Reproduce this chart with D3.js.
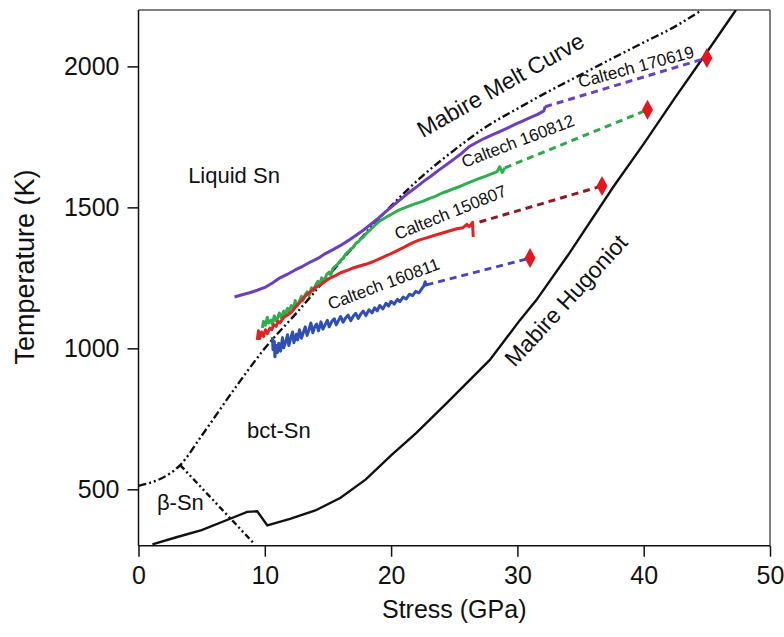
<!DOCTYPE html>
<html>
<head>
<meta charset="utf-8">
<script src="https://cdn.jsdelivr.net/npm/d3@7"></script>
<style>
  body { margin: 0; background: #fff; }
  svg { font-family: "Liberation Sans", Arial, sans-serif; }
</style>
</head>
<body>
<svg id="chart" width="784" height="637"></svg>
<script>
// Phase diagram data (stress GPa, temperature K)
const meltCurve = [[0,512],[3.3,586],[5,690],[7.5,850],[10,1000],[12.5,1125],[15,1255],[17.5,1385],[20,1505],[22.5,1612],[25,1703],[27.5,1785],[30,1850],[32.5,1912],[35,1970],[37.5,2028],[40,2085],[42.5,2142],[44.6,2200]];
const betaBoundary = [[3.3,586],[9.2,305]];
const hugoniot = [[1.1,305],[3,330],[5,355],[7.5,400],[8.6,420],[9.4,422],[10.2,372],[12,395],[14,425],[16,470],[18,535],[20,620],[22,700],[24.4,806],[27.8,958],[30.2,1100],[31.5,1171],[34,1330],[37.6,1573],[40,1725],[42.5,1890],[45,2050],[47.3,2200]];

const run170619 = [[7.6,1182],[8.2,1190],[8.8,1197],[9.4,1206],[10,1216],[10.6,1232],[11.2,1250],[11.8,1263],[12.4,1278],[13,1291],[13.6,1306],[14.2,1319],[14.8,1336],[15.4,1350],[16,1365],[16.6,1382],[17.2,1400],[17.8,1419],[18.4,1440],[19,1462],[19.6,1486],[20.2,1508],[20.8,1530],[21.4,1552],[22,1572],[22.6,1593],[23.2,1612],[23.8,1633],[24.4,1652],[25,1672],[25.6,1692],[26.2,1716],[26.8,1731],[27.4,1745],[28,1757],[28.6,1769],[29.2,1781],[29.8,1794],[30.4,1806],[31,1818],[31.6,1830],[32.1,1842],[32.2,1858]];
const run160812 = [[9.8,1072],[9.9,1095],[10.05,1082],[10.2,1110],[10.3,1090],[10.5,1100],[10.6,1085],[10.75,1115],[10.9,1098],[11,1106],[11.15,1125],[11.3,1108],[11.5,1132],[11.6,1118],[11.8,1142],[11.9,1130],[12.1,1152],[12.3,1140],[12.4,1170],[12.55,1150],[12.7,1162],[12.9,1185],[13,1168],[13.2,1190],[13.35,1200],[13.5,1186],[13.7,1215],[13.85,1205],[14,1222],[14.2,1238],[14.35,1226],[14.5,1250],[14.7,1240],[14.9,1262],[15.1,1270],[15.25,1262],[15.4,1284],[15.6,1292],[15.8,1300],[16,1312],[16.2,1320],[16.4,1334],[16.6,1342],[16.8,1352],[17,1358],[17.2,1372],[17.4,1378],[17.6,1388],[17.8,1395],[18,1406],[18.3,1418],[18.6,1432],[18.9,1444],[19.2,1455],[19.5,1462],[19.8,1470],[20.2,1480],[20.6,1490],[21,1497],[21.5,1506],[22,1514],[22.5,1521],[23,1531],[23.5,1539],[24,1550],[24.5,1558],[25,1567],[25.5,1575],[26,1585],[26.5,1594],[27,1603],[27.5,1611],[28,1620],[28.4,1627],[28.6,1644],[28.8,1624],[29,1640]];
const run150807 = [[9.4,1030],[9.5,1062],[9.6,1035],[9.75,1058],[9.9,1042],[10.05,1066],[10.2,1052],[10.4,1072],[10.55,1066],[10.7,1084],[10.9,1078],[11.05,1096],[11.2,1090],[11.5,1110],[11.8,1118],[12.1,1128],[12.4,1145],[12.7,1160],[13,1175],[13.3,1190],[13.6,1200],[14,1215],[14.4,1225],[14.8,1238],[15.2,1250],[15.6,1258],[16,1268],[16.5,1276],[17,1285],[17.5,1292],[18,1298],[18.6,1308],[19.2,1320],[19.8,1332],[20.4,1345],[21,1358],[21.6,1372],[22.2,1384],[22.8,1392],[23.4,1400],[24,1408],[24.6,1416],[25.2,1424],[25.7,1428],[26,1440],[26.2,1432],[26.45,1447],[26.5,1395]];
const run160811 = [[10.6,1040],[10.65,995],[10.75,1025],[10.8,970],[10.9,1010],[11,985],[11.1,1018],[11.25,990],[11.4,1038],[11.5,1002],[11.65,1022],[11.8,1048],[11.9,1010],[12.05,1035],[12.2,1058],[12.3,1020],[12.5,1050],[12.6,1030],[12.75,1066],[12.9,1036],[13.05,1056],[13.2,1076],[13.35,1046],[13.5,1066],[13.65,1090],[13.8,1055],[13.95,1076],[14.1,1086],[14.25,1062],[14.45,1094],[14.6,1068],[14.8,1086],[14.95,1099],[15.1,1076],[15.3,1095],[15.5,1105],[15.65,1083],[15.85,1100],[16,1113],[16.2,1093],[16.4,1108],[16.6,1118],[16.8,1098],[17,1114],[17.2,1124],[17.4,1106],[17.6,1122],[17.8,1132],[18,1116],[18.25,1137],[18.5,1126],[18.7,1144],[18.9,1133],[19.1,1152],[19.35,1140],[19.6,1160],[19.8,1150],[20,1167],[20.25,1157],[20.5,1174],[20.7,1166],[20.95,1182],[21.2,1175],[21.45,1192],[21.7,1187],[21.95,1202],[22.2,1197],[22.45,1213],[22.6,1222],[22.7,1236],[22.8,1220]];

// dashed extrapolation to the Hugoniot state, and the end diamonds
const extensions = [
  { name: '170619', color: '#6b3fc0', pts: [[32.2,1857],[45.0,2030]] },
  { name: '160812', color: '#2fa84a', pts: [[29.0,1640],[40.3,1846]] },
  { name: '150807', color: '#8e1c1c', pts: [[27.0,1448],[36.7,1576]] },
  { name: '160811', color: '#4545c4', pts: [[22.8,1225],[31.0,1320]] }
];
const diamonds = [[45.0,2030],[40.3,1846],[36.7,1576],[31.0,1320]];

const xTicks = [0, 10, 20, 30, 40, 50];
const yTicks = [500, 1000, 1500, 2000];

const svg = d3.select('#chart');
const mLeft = 138.5, mRight = 770, mTop = 10, mBottom = 545.7;

const x = d3.scaleLinear().domain([0, 50]).range([mLeft, mRight]);
const y = d3.scaleLinear().domain([300, 2200]).range([mBottom, mTop]);

svg.append('defs').append('clipPath').attr('id', 'plot-clip')
  .append('rect').attr('x', mLeft).attr('y', mTop).attr('width', mRight - mLeft).attr('height', mBottom - mTop);

// frame (top/right are lighter)
svg.append('line').attr('x1', mLeft).attr('x2', mRight).attr('y1', mTop).attr('y2', mTop)
  .attr('stroke', '#555').attr('stroke-width', 1.5);
svg.append('line').attr('x1', mRight).attr('x2', mRight).attr('y1', mTop).attr('y2', mBottom)
  .attr('stroke', '#555').attr('stroke-width', 1.5);

// axes
const xAxis = svg.append('g').attr('transform', `translate(0,${mBottom})`)
  .call(d3.axisBottom(x).tickValues(xTicks).tickFormat(d3.format('d')).tickSize(11).tickPadding(10));
const yAxis = svg.append('g').attr('transform', `translate(${mLeft},0)`)
  .call(d3.axisLeft(y).tickValues(yTicks).tickFormat(d3.format('d')).tickSize(11).tickPadding(8));
[xAxis, yAxis].forEach(a => {
  a.select('.domain').attr('stroke', '#111').attr('stroke-width', 1.5);
  a.selectAll('.tick line').attr('stroke', '#111').attr('stroke-width', 1.5);
  a.selectAll('.tick text').attr('fill', '#111').style('font-size', '25px')
    .style('font-family', '"Liberation Sans", Arial, sans-serif');
});
xAxis.select('.domain').attr('d', `M${mLeft},0H${mRight}`);
yAxis.select('.domain').attr('d', `M0,${mTop}V${mBottom}`);

svg.append('text').attr('x', (mLeft + mRight) / 2).attr('y', 618).attr('text-anchor', 'middle')
  .style('font-size', '25px').attr('fill', '#111').text('Stress (GPa)');
svg.append('text').attr('transform', `translate(34,267) rotate(-90)`).attr('text-anchor', 'middle')
  .style('font-size', '27px').attr('fill', '#111').text('Temperature (K)');

const plot = svg.append('g').attr('clip-path', 'url(#plot-clip)');
const line = d3.line().x(d => x(d[0])).y(d => y(d[1]));
const smooth = d3.line().x(d => x(d[0])).y(d => y(d[1])).curve(d3.curveMonotoneX);

// phase boundaries
plot.append('path').datum(meltCurve).attr('d', smooth).attr('fill', 'none')
  .attr('stroke', '#111').attr('stroke-width', 2.4).attr('stroke-dasharray', '8,3,2,3,2,3');
plot.append('path').datum(betaBoundary).attr('d', line).attr('fill', 'none')
  .attr('stroke', '#111').attr('stroke-width', 2.4).attr('stroke-dasharray', '6,3,2,3,2,3');
plot.append('path').datum(hugoniot).attr('d', line).attr('fill', 'none')
  .attr('stroke', '#111').attr('stroke-width', 2.4);

// dashed extrapolations
extensions.forEach(e => {
  plot.append('path').datum(e.pts).attr('d', line).attr('fill', 'none')
    .attr('stroke', e.color).attr('stroke-width', 3).attr('stroke-dasharray', '7,5');
});

// measured temperature histories
const runs = [
  { data: run170619, color: '#6b3fc0' },
  { data: run160812, color: '#2fae4e' },
  { data: run150807, color: '#e02424' },
  { data: run160811, color: '#2f4fb4' }
];
runs.forEach(r => {
  plot.append('path').datum(r.data).attr('d', line).attr('fill', 'none')
    .attr('stroke', r.color).attr('stroke-width', 3).attr('stroke-linejoin', 'round');
});

// end-state diamonds
plot.selectAll('path.diamond').data(diamonds).join('path')
  .attr('class', 'diamond')
  .attr('transform', d => `translate(${x(d[0])},${y(d[1])})`)
  .attr('d', 'M0,-10L5.5,0L0,10L-5.5,0Z')
  .attr('fill', '#e8141c');

// labels
const labels = [
  { t: 'Liquid Sn', p: [3.93, 1587], r: 0, s: 22 },
  { t: 'bct-Sn', p: [8.6, 682], r: 0, s: 22 },
  { t: 'β-Sn', p: [1.46, 426], r: 0, s: 22 },
  { t: 'Mabire Melt Curve', p: [22.5, 1745], r: -29.5, s: 23 },
  { t: 'Mabire Hugoniot', p: [29.8, 930], r: -47.5, s: 23 },
  { t: 'Caltech 170619', p: [34.96, 1924], r: -15, s: 17 },
  { t: 'Caltech 160812', p: [25.8, 1640], r: -21, s: 17 },
  { t: 'Caltech 150807', p: [20.5, 1384], r: -22, s: 17 },
  { t: 'Caltech 160811', p: [15.2, 1136], r: -20.5, s: 17 }
];
svg.selectAll('text.lbl').data(labels).join('text')
  .attr('class', 'lbl')
  .attr('transform', d => `translate(${x(d.p[0])},${y(d.p[1])}) rotate(${d.r})`)
  .style('font-size', d => d.s + 'px')
  .attr('fill', '#111')
  .text(d => d.t);
</script>
</body>
</html>
